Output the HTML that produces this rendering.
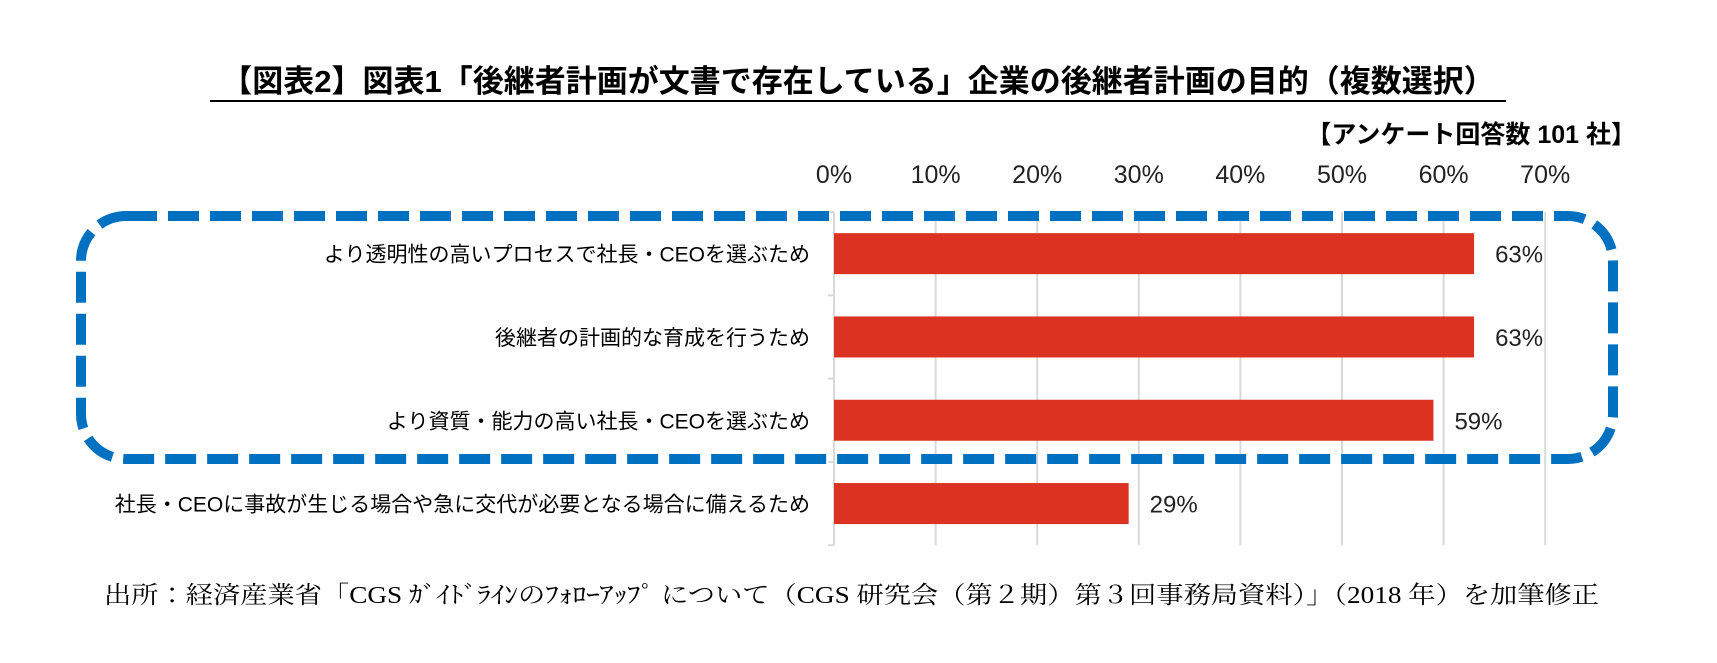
<!DOCTYPE html>
<html><head><meta charset="utf-8">
<style>
body{margin:0;background:#fff;}
svg{display:block;}
text{font-family:"Liberation Sans","Noto Sans CJK JP",sans-serif;}
.serif{font-family:"Liberation Serif","Noto Serif CJK JP",serif;}
</style></head>
<body>
<svg id="chart" width="1717" height="663" viewBox="0 0 1717 663" xmlns="http://www.w3.org/2000/svg">
<text x="858" y="92" text-anchor="middle" font-size="31" font-weight="bold" fill="#000">【図表2】図表1「後継者計画が文書で存在している」企業の後継者計画の目的（複数選択）</text>
<line x1="210" y1="101" x2="1506" y2="101" stroke="#000" stroke-width="2"/>
<text x="1636" y="143" text-anchor="end" font-size="25" font-weight="bold" fill="#000">【アンケート回答数 101 社】</text>
<g id="grid"></g>
<g id="bars"></g>
<rect x="81" y="216" width="1532" height="243" rx="45" ry="45" fill="none" stroke="#0070c0" stroke-width="10" stroke-dasharray="31 11"/>
<text class="serif" x="104" y="603" font-size="24" fill="#000" textLength="1495" lengthAdjust="spacingAndGlyphs">出所：経済産業省「CGS ｶﾞｲﾄﾞﾗｲﾝのﾌｫﾛｰｱｯﾌﾟ について（CGS 研究会（第２期）第３回事務局資料）」（2018 年）を加筆修正</text>
</svg>
<script>
const categories = ["より透明性の高いプロセスで社長・CEOを選ぶため","後継者の計画的な育成を行うため","より資質・能力の高い社長・CEOを選ぶため","社長・CEOに事故が生じる場合や急に交代が必要となる場合に備えるため"];
const values = [63, 63, 59, 29];
const valueLabels = ["63%","63%","59%","29%"];
const ticks = [0,10,20,30,40,50,60,70];
const tickLabels = ["0%","10%","20%","30%","40%","50%","60%","70%"];

const NS = "http://www.w3.org/2000/svg";
const x0 = 834, pxPer = 10.16;
const xScale = v => x0 + v * pxPer;
const yTop = 212, step = 83.3, barH = 41;
const yCenter = i => yTop + step * (i + 0.5);
const grid = document.getElementById('grid');
const bars = document.getElementById('bars');
function mk(tag, attrs, parent){ const e=document.createElementNS(NS,tag); for(const k in attrs) e.setAttribute(k,attrs[k]); parent.appendChild(e); return e; }

ticks.forEach((t,i)=>{
  if(i>0){
    const g = mk('line',{x1:xScale(t),x2:xScale(t),y1:yTop,y2:yTop+step*categories.length,stroke:'#d9d9d9','stroke-width':2},grid);
    
    
  }
  const tl = mk('text',{x:xScale(t),y:183,'text-anchor':'middle','font-size':25,fill:'#222'},grid);
  tl.textContent = tickLabels[i];
  
  
});
const ax = mk('line',{x1:x0,x2:x0,y1:yTop,y2:yTop+step*categories.length,stroke:'#d9d9d9','stroke-width':2},grid);


for(let i=0;i<=categories.length;i++){
  const tk = mk('line',{x1:x0-6,x2:x0,y1:yTop+step*i,y2:yTop+step*i,stroke:'#d9d9d9','stroke-width':2},grid);
  
  
}
categories.forEach((c,i)=>{
  const cy = yCenter(i);
  const r = mk('rect',{x:x0,y:cy-barH/2,width:xScale(values[i])-x0,height:barH,fill:'#dc3222'},bars);
  
  
  const l = mk('text',{x:x0-24,y:cy+8,'text-anchor':'end','font-size':21,fill:'#000'},bars);
  l.textContent = c;
  
  
  const v = mk('text',{x:xScale(values[i])+21,y:cy+9,'font-size':24,fill:'#222'},bars);
  v.textContent = valueLabels[i];
  
  
});
</script>
</body></html>
